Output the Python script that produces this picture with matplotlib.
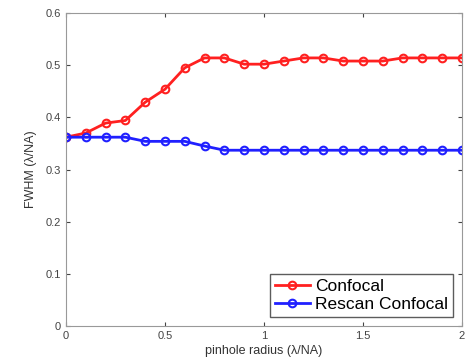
import matplotlib
matplotlib.use("Agg")
import matplotlib.pyplot as plt
import numpy as np

plt.rcParams['font.family'] = ['Liberation Sans', 'DejaVu Sans']

radius = [0.0, 0.1, 0.2, 0.3, 0.4, 0.5, 0.6, 0.7, 0.8, 0.9, 1.0,
          1.1, 1.2, 1.3, 1.4, 1.5, 1.6, 1.7, 1.8, 1.9, 2.0]
confocal = [0.362, 0.370, 0.389, 0.394, 0.429, 0.454, 0.495, 0.514, 0.514, 0.502, 0.502,
            0.508, 0.514, 0.514, 0.508, 0.508, 0.508, 0.514, 0.514, 0.514, 0.514]
rescan = [0.362, 0.362, 0.362, 0.362, 0.354, 0.354, 0.354, 0.345, 0.337, 0.337, 0.337,
          0.337, 0.337, 0.337, 0.337, 0.337, 0.337, 0.337, 0.337, 0.337, 0.337]

fig = plt.figure(figsize=(4.68, 3.63), dpi=100)
ax = fig.add_axes([0.141, 0.102, 0.846, 0.862])

ax.plot(radius, confocal, '-o', color='#ff2020', lw=2, ms=5.5, mfc='none', mew=1.5, label='Confocal')
ax.plot(radius, rescan, '-o', color='#2020ff', lw=2, ms=5.5, mfc='none', mew=1.5, label='Rescan Confocal')

ax.set_xlim(0, 2)
ax.set_ylim(0, 0.6)
ax.set_xticks([0, 0.5, 1, 1.5, 2])
ax.set_xticklabels(['0', '0.5', '1', '1.5', '2'])
ax.set_yticks([0, 0.1, 0.2, 0.3, 0.4, 0.5, 0.6])
ax.set_yticklabels(['0', '0.1', '0.2', '0.3', '0.4', '0.5', '0.6'])
ax.tick_params(direction='in', top=True, right=True, labelsize=8, colors='#444444', length=3)
for s in ax.spines.values():
    s.set_color('#999999')

ax.set_xlabel('pinhole radius (λ/NA)', fontsize=9, color='#333333', labelpad=3)
ax.set_ylabel('FWHM (λ/NA)', fontsize=9, color='#333333', labelpad=6)

leg = ax.legend(loc='lower right', fontsize=12.5, frameon=True, fancybox=False,
                edgecolor='#333333', handlelength=2.0, borderpad=0.3, labelspacing=0.15,
                handletextpad=0.3, borderaxespad=0.5)
leg.get_frame().set_linewidth(1.0)

fig.savefig('out.png', dpi=100)
